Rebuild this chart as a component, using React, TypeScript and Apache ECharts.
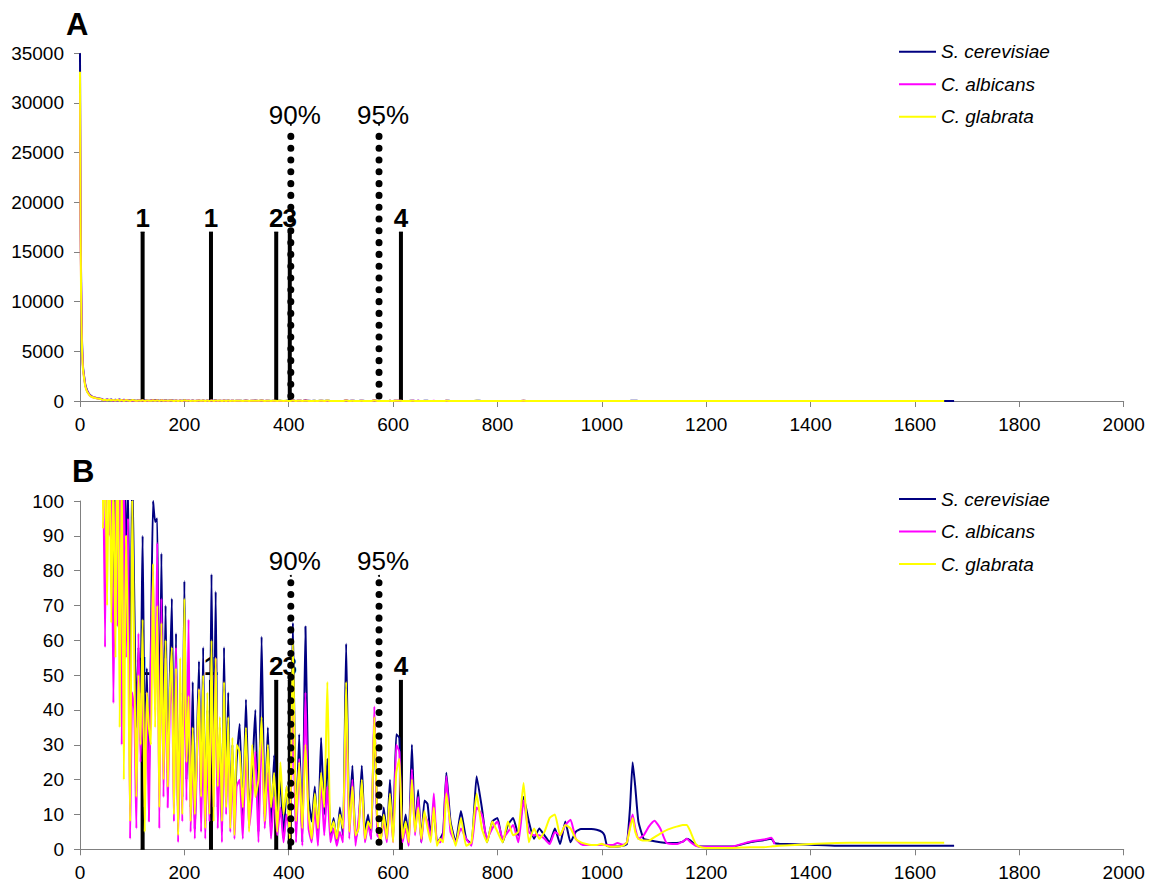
import React, { useEffect, useRef } from 'react';
import * as echarts from 'echarts';

// ---- shared x positions (length) ----
const xHead = [0, 1, 2, 3, 4, 5, 6, 8, 10, 12, 15, 19, 24, 30, 36, 40];
const xDense = [44, 48, 52, 56, 60, 64, 68, 72, 76, 80, 84, 88, 92, 96, 100,
  104, 108, 112, 116, 120, 124, 128, 132, 136, 140, 144, 148, 152, 156, 160,
  164, 168, 172, 176, 180, 184, 188, 192, 196, 200, 204, 208, 212, 216, 220,
  224, 228, 232, 236, 240, 244, 248, 252, 256, 260, 264, 268, 272, 276, 280,
  284, 288, 292, 296, 300];
const xMid = [306, 312, 318, 324, 330, 336, 342, 348, 354, 360, 366, 372, 378, 384, 390, 396, 402, 408, 414, 420,
  426, 432, 438, 444, 450, 456, 462, 468, 474, 480, 486, 492, 498, 504, 510, 516, 522, 528, 534, 540,
  546, 552, 558, 564, 570, 576, 582, 588, 594, 600, 606, 612, 618, 624, 630, 636, 642, 648, 654, 660,
  666, 672, 678, 684, 690, 696, 702];
const xLate = [710, 720, 730, 740, 750, 760, 770, 780, 790, 800, 810, 820, 830, 840, 850, 860, 870, 880, 890, 900,
  910, 920, 930, 940, 950, 960, 970, 980, 990, 1000];
const xTail = [1005, 1010, 1020, 1030, 1040, 1048, 1054, 1059, 1064, 1070, 1080, 1090, 1101, 1112, 1124, 1143,
  1155, 1163, 1170, 1180, 1190, 1200, 1250, 1284, 1310, 1325, 1331, 1340, 1400, 1450, 1500, 1600, 1656, 1675];

// ---- S. cerevisiae ----
const scHead = [35000, 20000, 13000, 8500, 5800, 4200, 3300, 2450, 1700, 1300, 900, 600, 420, 320, 260, 220];
const scDense = [130, 105, 160, 98, 140, 75, 120, 95, 150, 60, 125, 83, 105, 40, 110,
  72, 35, 58, 45, 90, 30, 52, 20, 60, 100, 94, 95, 25, 85, 28,
  70, 22, 48, 72, 18, 62, 5, 45, 15, 77, 20, 35, 12, 48, 6,
  30, 54, 10, 58, 8, 40, 14, 79, 20, 74, 12, 35, 5, 58, 15,
  45, 10, 30, 8, 25];
const scMid = [36, 8, 43, 12, 22, 40, 5, 61, 10, 35, 4, 27, 8, 20, 3, 18, 10, 65, 5, 33,
  2, 64, 15, 8, 18, 3, 32, 10, 26, 4, 9, 2, 12, 4, 59, 8, 24, 3, 7, 24,
  5, 10, 3, 38, 6, 2, 12, 4, 20, 3, 33, 32, 4, 10, 3, 30, 6, 17, 2, 14,
  13, 4, 12, 2, 3, 5, 22];
const scLate = [8, 2, 11, 3, 1.5, 21, 12, 2, 8, 9, 2, 7, 9, 4, 15, 8, 3, 6, 4, 2,
  6, 1.5, 8, 2, 5, 5.8, 5.8, 5.8, 5.6, 5];
const scTail = [4, 1, 0.8, 0.8, 1, 1.5, 12, 25, 18, 8, 3, 2.6, 2.3, 2, 1.8, 1.8, 2.2, 3, 2.5, 1.2,
  0.8, 0.8, 0.8, 2, 2.6, 3, 1.8, 1.6, 1.3, 1, 1, 1, 1, 1];

// ---- C. albicans ----
const caHead = [31000, 18000, 12000, 8000, 5300, 4000, 3100, 2300, 1600, 1200, 850, 560, 400, 300, 240, 200];
const caDense = [120, 58, 140, 90, 115, 42, 100, 64, 130, 30, 110, 55, 95, 3, 45,
  40, 6, 62, 25, 48, 12, 45, 8, 55, 80, 40, 88, 6, 72, 15,
  55, 12, 40, 50, 8, 58, 2, 40, 8, 60, 14, 66, 5, 30, 3,
  25, 46, 5, 35, 3, 28, 8, 50, 12, 55, 6, 30, 2, 40, 10,
  33, 5, 25, 3, 18];
const caMid = [20, 3, 30, 6, 15, 28, 2, 35, 6, 22, 3, 15, 4, 12, 2, 10, 5, 40, 2, 26,
  1, 45, 6, 2, 12, 1, 20, 4, 18, 2, 6, 1, 5, 2, 40, 3, 20, 1, 9, 18,
  2, 7, 3, 41, 4, 3, 8, 2, 14, 2, 30, 28, 2, 6, 1, 23, 4, 15, 2, 10,
  8, 3, 16, 2, 2, 4, 21];
const caLate = [5, 2, 6, 3, 1, 12, 10, 3, 6, 8, 3, 5, 7, 2, 14, 5, 4, 4, 3, 1.5,
  5, 4, 7, 8.5, 3, 1.5, 1.2, 1.2, 1.2, 1.3];
const caTail = [1.3, 1.2, 1.2, 1.8, 1.3, 2, 7, 10, 6, 3, 4, 6.5, 8.2, 6, 1.8, 1.5, 2.2, 3, 2, 1,
  0.7, 0.7, 0.8, 2.2, 2.8, 3.3, 1.5, null, null, null, null, null, null, null];

// ---- C. glabrata ----
const cgHead = [33150, 19000, 11000, 7500, 5000, 3800, 3000, 2200, 1500, 1150, 800, 540, 380, 290, 230, 190];
const cgDense = [92, 115, 70, 125, 65, 108, 55, 130, 35, 112, 20, 90, 60, 8, 100,
  55, 15, 50, 30, 66, 5, 45, 35, 30, 82, 35, 70, 12, 65, 20,
  60, 18, 44, 58, 10, 52, 4, 55, 10, 72, 25, 44, 8, 35, 10,
  28, 46, 15, 50, 6, 45, 10, 60, 8, 55, 18, 38, 8, 48, 12,
  38, 6, 32, 4, 30];
const cgMid = [28, 12, 35, 5, 30, 15, 20, 38, 8, 30, 12, 22, 5, 25, 10, 18, 3, 60, 8, 25,
  6, 30, 10, 3, 16, 6, 22, 12, 48, 5, 8, 3, 10, 6, 48, 5, 18, 4, 6, 20,
  3, 8, 6, 38, 8, 2, 10, 3, 16, 2, 22, 26, 3, 8, 2, 20, 5, 12, 3, 11,
  6, 2, 12, 1, 3, 2, 16];
const cgLate = [7, 1, 9, 1, 2, 16, 6, 2, 8, 5, 2, 8, 4, 5, 19, 2, 6, 3, 5, 9,
  10, 4, 7, 6, 3, 2, 1.5, 1.2, 1.2, 1.6];
const cgTail = [1.2, 1, 0.7, 0.8, 1, 2, 6, 9, 5, 3, 2.5, 2.5, 3.5, 4.5, 5.5, 6.5, 7, 7, 5, 1.5,
  0.6, 0.4, 0.4, 0.6, 0.6, 0.8, 0.9, 1, 1.5, 1.8, 1.9, 1.9, 1.9, null];

// ---- markers ----
const markerXs = [120, 251, 376, 402, 615];
const markerLabels = ['1', '1', '2', '3', '4'];
const markerTops = [17000, 48.5];
const percentXs = [404, 573];
const percentLabels = ['90%', '95%'];
const percentTops = [27800, 78.5];
const percentBottoms = [500, 2];

// ---- axes ----
const yMaxes = [35000, 100];
const yIntervals = [5000, 10];
const speciesNames = ['S. cerevisiae', 'C. albicans', 'C. glabrata'];
const speciesColors = ['#000080', '#FF00FF', '#FFFF00'];
const panelLetters = ['A', 'B'];

const FONT = '"Liberation Sans", Arial, Helvetica, sans-serif';

const xs = [...xHead, ...xDense, ...xMid, ...xLate, ...xTail];
const speciesY = [
  [...scHead, ...scDense, ...scMid, ...scLate, ...scTail],
  [...caHead, ...caDense, ...caMid, ...caLate, ...caTail],
  [...cgHead, ...cgDense, ...cgMid, ...cgLate, ...cgTail],
];

function buildOption() {
  const grids = [
    { left: 80, top: 53.3, width: 1043.7, height: 347.7 },
    { left: 80, top: 501, width: 1043.7, height: 348.3 },
  ];
  const axisColor = '#808080';
  const xAxes = grids.map((_, g) => ({
    type: 'value', gridIndex: g, min: 0, max: 2000, interval: 200,
    axisLine: { show: true, lineStyle: { color: axisColor, width: 1 } },
    axisTick: { show: true, inside: false, length: 6, lineStyle: { color: axisColor } },
    axisLabel: { color: '#000', fontSize: 19, fontFamily: FONT, margin: 14, formatter: (v: number) => String(v) },
    splitLine: { show: false },
  }));
  const yAxes = grids.map((_, g) => ({
    type: 'value', gridIndex: g, min: 0, max: yMaxes[g], interval: yIntervals[g],
    axisLine: { show: true, lineStyle: { color: axisColor, width: 1 } },
    axisTick: { show: true, inside: false, length: 6, lineStyle: { color: axisColor } },
    axisLabel: { color: '#000', fontSize: 19, fontFamily: FONT, margin: 16, formatter: (v: number) => String(v) },
    splitLine: { show: false },
  }));
  const percentDistances = [-4, 1];

  const series: any[] = [];
  grids.forEach((_, g) => {
    markerXs.forEach((mx, i) => {
      series.push({
        type: 'line', xAxisIndex: g, yAxisIndex: g, symbol: 'rect', symbolSize: [4, 1], showSymbol: true,
        silent: true, z: 1,
        itemStyle: { color: '#000' },
        lineStyle: { color: '#000', width: 4 },
        data: [
          { value: [mx, 0] },
          {
            value: [mx, markerTops[g]],
            label: {
              show: true, position: 'top', distance: 1, formatter: markerLabels[i],
              color: '#000', fontSize: 26, fontWeight: 'bold', fontFamily: FONT,
            },
          },
        ],
      });
    });
    speciesNames.forEach((name, s) => {
      series.push({
        name, type: 'line', xAxisIndex: g, yAxisIndex: g, symbol: 'none', z: 2,
        smooth: 0.15, clip: true,
        color: speciesColors[s],
        lineStyle: { color: speciesColors[s], width: 2 },
        data: xs.map((x, i) => [x, speciesY[s][i]]),
      });
    });
    percentXs.forEach((px, i) => {
      series.push({
        type: 'line', xAxisIndex: g, yAxisIndex: g, symbol: 'circle', symbolSize: 2, showSymbol: true,
        silent: true, z: 3,
        itemStyle: { color: '#000' },
        lineStyle: { color: '#000', width: 7, type: [0.1, 11.7], cap: 'round' },
        data: [
          { value: [px, percentBottoms[g]] },
          {
            value: [px, percentTops[g]],
            label: {
              show: true, position: 'top', distance: percentDistances[g], offset: [4, 0], formatter: percentLabels[i],
              color: '#000', fontSize: 26, fontFamily: FONT,
            },
          },
        ],
      });
    });
  });

  const legends = [41.7, 489].map((top) => ({
    data: speciesNames, orient: 'vertical', left: 894, top, padding: [0, 5, 0, 5],
    itemWidth: 37, itemHeight: 14, itemGap: 12.5, icon: 'path://M0,6 L37,6 L37,8 L0,8 Z',
    textStyle: { fontSize: 19, fontStyle: 'italic', color: '#000', fontFamily: FONT, lineHeight: 20 },
  }));

  const titles = panelLetters.map((t, g) => ({
    text: t, left: g === 0 ? 66 : 72, top: g === 0 ? 9 : 456, padding: 0,
    textStyle: { fontSize: 31, fontWeight: 'bold', color: '#000', fontFamily: FONT },
  }));

  return {
    animation: false,
    backgroundColor: '#fff',
    title: titles,
    legend: legends,
    grid: grids,
    xAxis: xAxes,
    yAxis: yAxes,
    series,
  };
}

export default function App() {
  const ref = useRef<HTMLDivElement>(null);
  useEffect(() => {
    document.body.style.margin = '0';
    const chart = echarts.init(ref.current!, null, { renderer: 'svg' });
    chart.setOption(buildOption() as any);
    return () => chart.dispose();
  }, []);
  return <div ref={ref} style={{ width: 1149, height: 886 }} />;
}
